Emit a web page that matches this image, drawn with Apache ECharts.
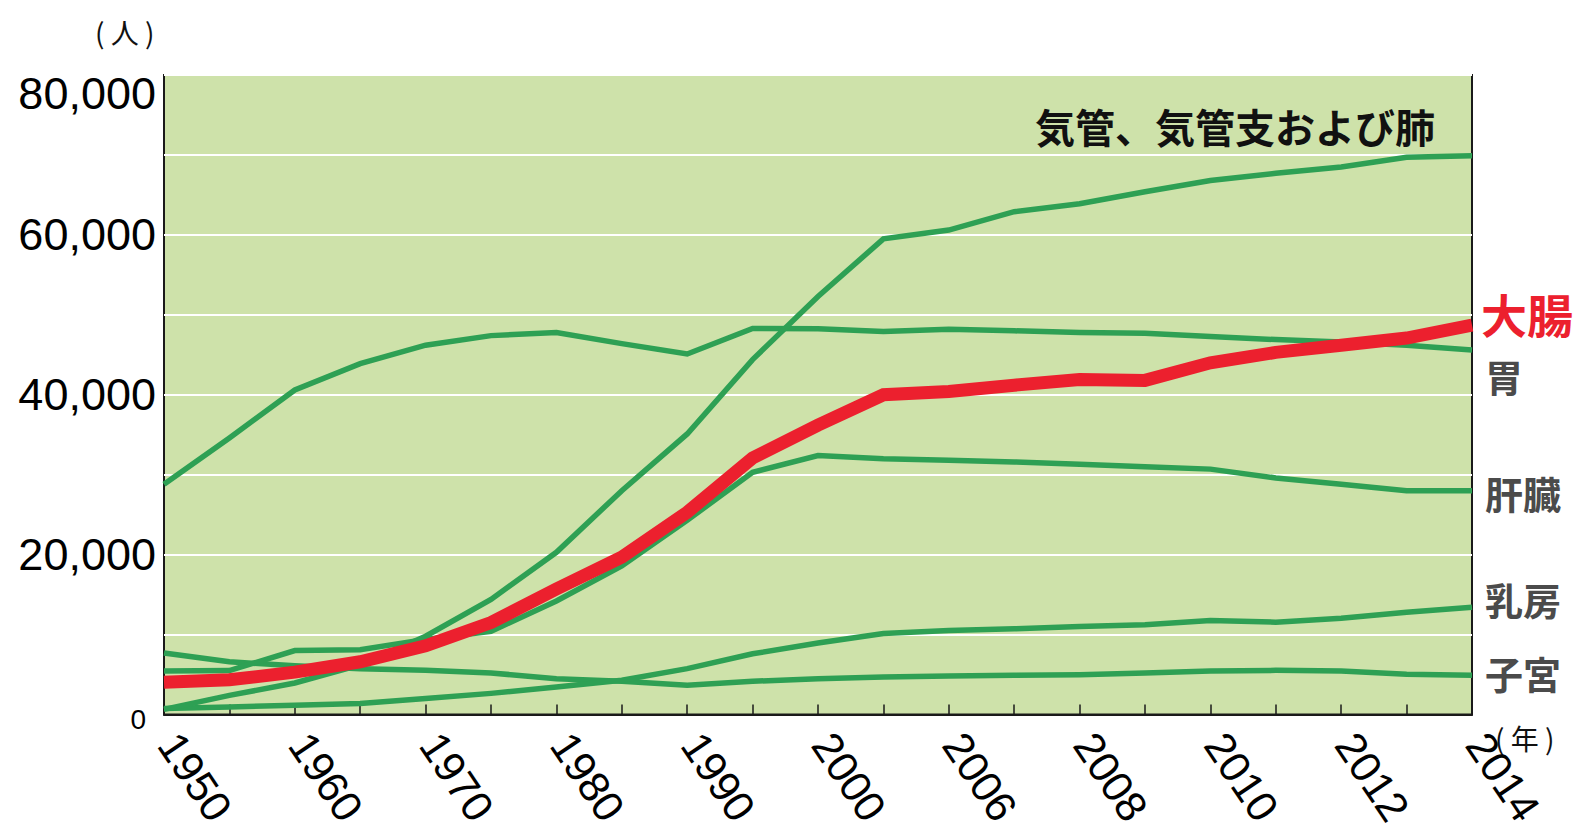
<!DOCTYPE html>
<html><head><meta charset="utf-8">
<script src="https://cdn.jsdelivr.net/npm/echarts@6/dist/echarts.min.js"></script>
<style>html,body{margin:0;padding:0;background:#fff;}#c{width:1593px;height:831px;}</style>
</head><body><div id="c"></div>
<script>
const years = ['1950','1955','1960','1965','1970','1975','1980','1985','1990','1995','2000','2005','2006','2007','2008','2009','2010','2011','2012','2013','2014'];
const lung    = [650, 2400, 3950, 6200, 9800, 14400, 20300, 28000, 35100, 44400, 52300, 59500, 60600, 62900, 63900, 65400, 66800, 67700, 68500, 69700, 69900];
const stomach = [28800, 34600, 40600, 43900, 46200, 47400, 47800, 46400, 45100, 48300, 48250, 47900, 48200, 48000, 47800, 47700, 47300, 46900, 46600, 46200, 45600];
const colon   = [4050, 4350, 5300, 6600, 8600, 11500, 15700, 19700, 25300, 32100, 36200, 40000, 40400, 41200, 41900, 41800, 44000, 45300, 46200, 47100, 48700];
const liver   = [5450, 5500, 8000, 8100, 9400, 10400, 14200, 18600, 24300, 30300, 32400, 32000, 31800, 31600, 31300, 31000, 30700, 29600, 28800, 28000, 28000];
const breast  = [750, 960, 1170, 1370, 2000, 2650, 3450, 4290, 5740, 7600, 8940, 10150, 10520, 10730, 11020, 11220, 11770, 11560, 12060, 12800, 13430];
const uterus  = [7690, 6600, 6100, 5740, 5530, 5200, 4490, 4160, 3660, 4160, 4490, 4700, 4830, 4910, 4990, 5200, 5450, 5530, 5450, 5030, 4910];
const yLabelValues = [0, 20000, 40000, 60000, 80000];

const GREEN = '#2ea054', RED = '#ec202e', GRAY = '#4b4b4b';
const CJK = '"Noto Sans CJK JP", sans-serif';
const NUM = '"Liberation Sans", Arial, sans-serif';

function fmt(v){ return String(v).replace(/\B(?=(\d{3})+(?!\d))/g, ','); }

function endMark(text, data, color, size, dist, dy){
  const last = data.length - 1;
  return {silent:true, symbol:'circle', symbolSize:0, animation:false,
    data:[{coord:[last, data[last]]}],
    label:{show:true, position:'right', distance:dist, offset:[0, dy], formatter:text,
      color:color, fontSize:size, fontWeight:'bold', fontFamily:CJK}};
}
function line(name, data, color, width, z, mark){
  const s = {type:'line', name:name, data:data, symbol:'none', z:z, clip:false,
    lineStyle:{color:color, width:width, join:'miter'}, animation:false};
  if (mark) s.markPoint = mark;
  return s;
}

const chart = echarts.init(document.getElementById('c'), null, {renderer:'svg'});
chart.setOption({
  animation:false,
  backgroundColor:'#ffffff',
  grid:{left:164, right:121, top:75, bottom:113, show:true, backgroundColor:'#cee2aa',
        borderColor:'#1a1a1a', borderWidth:2},
  xAxis:{type:'category', data:years, boundaryGap:false,
    axisLine:{lineStyle:{color:'#1a1a1a', width:2}},
    axisTick:{show:true, inside:true, length:10, interval:0, lineStyle:{color:'#1a1a1a', width:1.5}},
    axisLabel:{interval:1, rotate:-56, margin:16, padding:[0,0,0,8], fontSize:43, color:'#000', fontFamily:NUM},
    splitLine:{show:false}},
  yAxis:{type:'value', min:0, max:80000, interval:10000,
    axisLine:{show:false}, axisTick:{show:false},
    splitLine:{lineStyle:{color:'#ffffff', width:2}},
    axisLabel:{margin:8, fontSize:45, color:'#000', fontFamily:NUM,
      formatter:function(v){
        if (yLabelValues.indexOf(v) < 0) return '';
        if (v === 0) return '{z|0}';
        if (v === 80000) return '{t|' + fmt(v) + '}';
        return fmt(v);
      },
      rich:{
        z:{fontSize:28, fontFamily:NUM, color:'#000', padding:[10,10,0,0]},
        t:{fontSize:45, fontFamily:NUM, color:'#000', padding:[36,0,0,0]}
      }}},
  series:[
    line('子宮', uterus, GREEN, 5.5, 2, endMark('子宮', uterus, GRAY, 38, 13, -3)),
    line('乳房', breast, GREEN, 5.5, 2, endMark('乳房', breast, GRAY, 38, 13, -9)),
    line('肝臓', liver, GREEN, 5.5, 2, endMark('肝臓', liver, GRAY, 38, 13, 2)),
    line('胃', stomach, GREEN, 5.5, 2, endMark('胃', stomach, GRAY, 38, 13, 25)),
    line('気管、気管支および肺', lung, GREEN, 5.5, 2, null),
    line('大腸', colon, RED, 13, 5, endMark('大腸', colon, RED, 46, 9, -12))
  ],
  graphic:[
    {type:'text', right:158, top:106, z:10,
      style:{text:'気管、気管支および肺', fontSize:40, fontWeight:'bold', fontFamily:CJK, fill:'#111'}},
    {type:'text', left:95, top:18,
      style:{text:'( 人 )', fontSize:28, fontFamily:CJK, fill:'#111'}},
    {type:'text', left:1495, top:724,
      style:{text:'( 年 )', fontSize:28, fontFamily:CJK, fill:'#111'}}
  ]
});
</script>
</body></html>
